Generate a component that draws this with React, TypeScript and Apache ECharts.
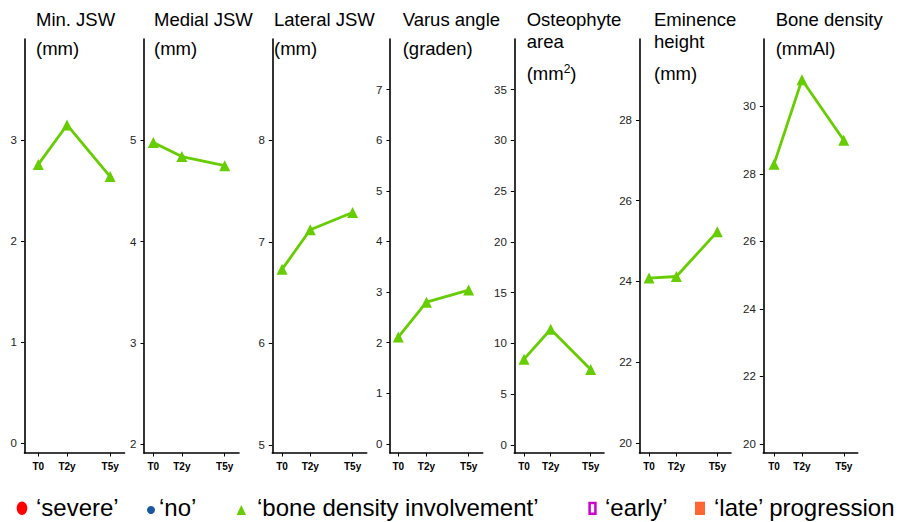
import React, { useEffect, useRef } from "react";
import * as echarts from "echarts";

// ---- data ----
const timeLabels = ["T0", "T2y", "T5y"];
const timeYears = [0, 2, 5];

const panelTitles = ["Min. JSW", "Medial JSW", "Lateral JSW", "Varus angle", "Osteophyte\narea", "Eminence\nheight", "Bone density"];
const panelUnits = ["(mm)", "(mm)", "(mm)", "(graden)", "(mm{sup|2})", "(mm)", "(mmAl)"];

const minJSW = [2.76, 3.15, 2.64];
const medialJSW = [4.98, 4.84, 4.75];
const lateralJSW = [6.73, 7.12, 7.29];
const varusAngle = [2.11, 2.8, 3.04];
const osteophyteArea = [8.45, 11.4, 7.44];
const eminenceHeight = [24.08, 24.12, 25.23];
const boneDensity = [28.29, 30.79, 29.0];

const minJSWTicks = [0, 1, 2, 3];
const medialJSWTicks = [2, 3, 4, 5];
const lateralJSWTicks = [5, 6, 7, 8];
const varusAngleTicks = [0, 1, 2, 3, 4, 5, 6, 7];
const osteophyteTicks = [0, 5, 10, 15, 20, 25, 30, 35];
const eminenceTicks = [20, 22, 24, 26, 28];
const boneDensityTicks = [20, 22, 24, 26, 28, 30];

const legendLabels = ["‘severe’", "‘no’", "‘bone density involvement’", "‘early’", "‘late’ progression"];

const seriesValues = [minJSW, medialJSW, lateralJSW, varusAngle, osteophyteArea, eminenceHeight, boneDensity];
const seriesTicks = [minJSWTicks, medialJSWTicks, lateralJSWTicks, varusAngleTicks, osteophyteTicks, eminenceTicks, boneDensityTicks];

// ---- layout (positions / ranges only) ----
const panelLayout = [
  { left: 24.5, width: 100, xMin: -0.96, yMin: -0.094, yMax: 4, titleX: 36 },
  { left: 144, width: 95, xMin: -0.65, yMin: 1.916, yMax: 6, titleX: 154 },
  { left: 272.3, width: 94.4, xMin: -0.69, yMin: 4.92, yMax: 9, titleX: 274 },
  { left: 390, width: 92.7, xMin: -0.59, yMin: -0.18, yMax: 8, titleX: 402.7 },
  { left: 514.3, width: 89.7, xMin: -0.73, yMin: -0.8, yMax: 40, titleX: 526.7 },
  { left: 639.5, width: 91.5, xMin: -0.7, yMin: 19.75, yMax: 30, titleX: 654 },
  { left: 763.3, width: 94.4, xMin: -0.77, yMin: 19.73, yMax: 32, titleX: 775.7 },
];
const GRID_TOP = 39;
const GRID_BOTTOM = 453;
const GREEN = "#66cd00";
const FONT = "'Liberation Sans', Arial, Helvetica, sans-serif";

export default function App() {
  const ref = useRef<HTMLDivElement>(null);

  useEffect(() => {
    if (!ref.current) return;
    const chart = echarts.init(ref.current, undefined, { renderer: "svg" });

    const grids: any[] = [];
    const xAxes: any[] = [];
    const yAxes: any[] = [];
    const series: any[] = [];
    const graphics: any[] = [];

    panelLayout.forEach((p, i) => {
      grids.push({
        left: p.left,
        top: GRID_TOP,
        width: p.width,
        height: GRID_BOTTOM - GRID_TOP,
        containLabel: false,
        outerBoundsMode: "none",
      });
      xAxes.push({
        type: "value",
        gridIndex: i,
        min: p.xMin,
        max: 6,
        splitLine: { show: false },
        axisLine: { show: true, onZero: false, lineStyle: { color: "#000", width: 1.6 } },
        axisTick: { show: true, length: 3.5, lineStyle: { color: "#000", width: 1 }, customValues: timeYears },
        axisLabel: {
          show: true,
          customValues: timeYears,
          margin: 8,
          fontSize: 10,
          fontWeight: "bold",
          color: "#000",
          fontFamily: FONT,
          formatter: (v: number) => {
            const k = timeYears.indexOf(Math.round(v * 1000) / 1000);
            return k >= 0 ? timeLabels[k] : "";
          },
        },
      });
      yAxes.push({
        type: "value",
        gridIndex: i,
        min: p.yMin,
        max: p.yMax,
        splitLine: { show: false },
        axisLine: { show: true, onZero: false, lineStyle: { color: "#000", width: 1.6 } },
        axisTick: { show: true, length: 3.5, lineStyle: { color: "#000", width: 1 }, customValues: seriesTicks[i] },
        axisLabel: {
          show: true,
          customValues: seriesTicks[i],
          margin: 7.5,
          fontSize: 11.5,
          color: "#222",
          fontFamily: FONT,
        },
      });
      series.push({
        type: "line",
        name: "‘bone density involvement’",
        xAxisIndex: i,
        yAxisIndex: i,
        data: timeYears.map((t, k) => [t, seriesValues[i][k]]),
        symbol: "triangle",
        symbolSize: 11,
        lineStyle: { color: GREEN, width: 2.8 },
        itemStyle: { color: GREEN },
      });

      const titleLines = panelTitles[i].split("\n");
      titleLines.forEach((line, li) => {
        graphics.push({
          type: "text",
          x: p.titleX,
          y: 19.7 + li * 22,
          style: { text: line, fontSize: 18.5, fill: "#000", fontFamily: FONT, verticalAlign: "middle", align: "left" },
        });
      });
      const unitY = titleLines.length > 1 ? 73 : 48.4;
      graphics.push({
        type: "text",
        x: p.titleX,
        y: unitY,
        style: {
          text: panelUnits[i],
          fontSize: 18.5,
          fill: "#000",
          fontFamily: FONT,
          verticalAlign: "middle",
          align: "left",
          rich: { sup: { fontSize: 12, fill: "#000", fontFamily: FONT, verticalAlign: "top", padding: [0, 0, 8, 0] } },
        },
      });
    });

    // legend (drawn manually to match layout)
    const legendY = 507.5;
    graphics.push({ type: "ellipse", shape: { cx: 22, cy: 508.3, rx: 5.3, ry: 6.7 }, style: { fill: "#ff0000" } });
    graphics.push({ type: "circle", shape: { cx: 151, cy: 510, r: 4 }, style: { fill: "#1a56a0" } });
    graphics.push({ type: "polygon", shape: { points: [[236.6, 515], [246, 515], [241.3, 505]] }, style: { fill: GREEN } });
    graphics.push({ type: "rect", shape: { x: 589.6, y: 503, width: 5.8, height: 10.8 }, style: { fill: "none", stroke: "#cc00cc", lineWidth: 2.5 } });
    graphics.push({ type: "rect", shape: { x: 695, y: 501.7, width: 10, height: 13.3 }, style: { fill: "#ff6633" } });
    const legendX = [36, 159, 257, 605, 714];
    legendLabels.forEach((t, k) => {
      graphics.push({
        type: "text",
        x: legendX[k],
        y: legendY,
        style: { text: t, fontSize: 24, fill: "#000", fontFamily: FONT, verticalAlign: "middle", align: "left" },
      });
    });

    chart.setOption({
      animation: false,
      backgroundColor: "#fff",
      grid: grids,
      xAxis: xAxes,
      yAxis: yAxes,
      series,
      graphic: graphics,
    });

    return () => chart.dispose();
  }, []);

  return <div ref={ref} style={{ position: "fixed", left: 0, top: 0, width: 906, height: 522 }} />;
}
